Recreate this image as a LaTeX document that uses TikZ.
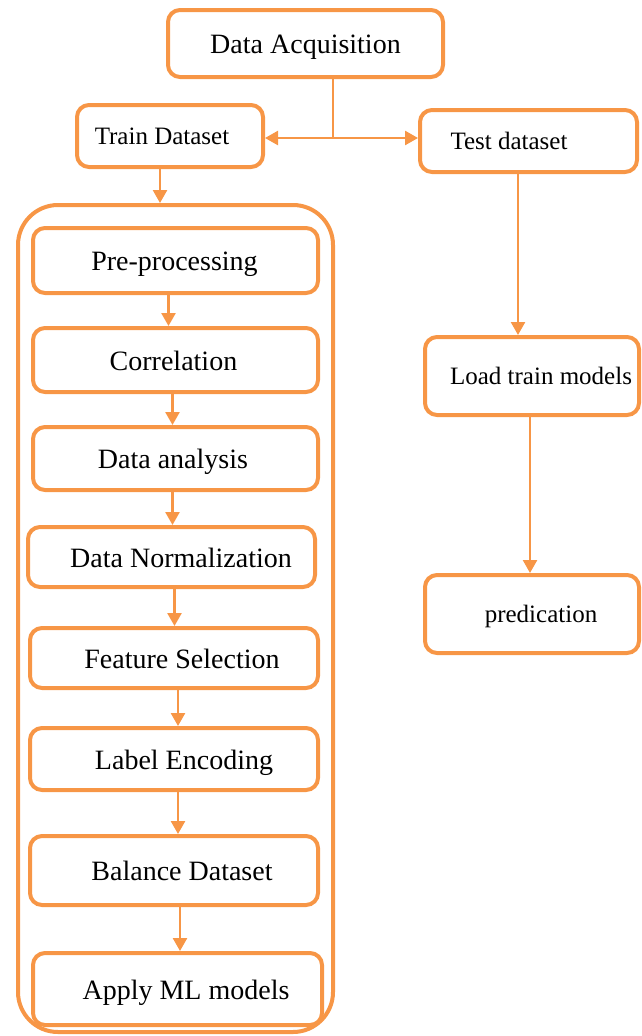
\documentclass[tikz,border=0pt]{standalone}
\usepackage{fontspec}
\setmainfont{Liberation Serif}
\usetikzlibrary{arrows.meta,calc}
\definecolor{org}{RGB}{247,150,70}
\begin{document}
\begin{tikzpicture}[x=1pt,y=1pt,
  box/.style={draw=org,line width=4pt,rounded corners=12pt,inner sep=0pt,align=center,text=black},
  big/.style={font=\fontsize{28pt}{32pt}\selectfont,text height=26pt,text depth=6pt},
  small/.style={font=\fontsize{25pt}{29pt}\selectfont,text height=23pt,text depth=5.5pt},
  arr/.style={draw=org,line width=2.5pt,-{Triangle[width=14pt,length=13pt]}}]
\useasboundingbox (0,0) rectangle (641,-1036);
% container
\node[draw=org,line width=4pt,rounded corners=40pt,minimum width=315pt,minimum height=827pt] (cont) at (175.5,-618.5) {};
% top
\node[box,big,minimum width=275pt,minimum height=67pt] (acq) at (305.5,-43.5) {Data Acquisition};
\node[box,small,minimum width=186pt,minimum height=62pt] (train) at (170,-136) {\hspace*{-16pt}Train Dataset};
\node[box,small,minimum width=217pt,minimum height=62pt] (test) at (528.5,-141) {\hspace*{-39pt}Test dataset};
% left column
\node[box,big,minimum width=285pt,minimum height=65pt] (pre) at (175.5,-260.5) {\hspace*{-2pt}Pre-processing};
\node[box,big,minimum width=285pt,minimum height=64pt] (corr) at (175.5,-360) {\hspace*{-4pt}Correlation};
\node[box,big,minimum width=285pt,minimum height=63pt] (ana) at (175.5,-458.5) {\hspace*{-5pt}Data analysis};
\node[box,big,minimum width=287pt,minimum height=60pt] (norm) at (171.5,-557) {Data Normalization\hspace*{-19pt}};
\node[box,big,minimum width=288pt,minimum height=60pt] (feat) at (174,-658) {Feature Selection\hspace*{-16pt}};
\node[box,big,minimum width=288pt,minimum height=62pt] (lab) at (174,-759) {Label Encoding\hspace*{-20pt}};
\node[box,big,minimum width=288pt,minimum height=69pt] (bal) at (174,-870.5) {Balance Dataset\hspace*{-16pt}};
\node[box,big,minimum width=289pt,minimum height=72pt] (ml) at (177.5,-989) {Apply ML models\hspace*{-17pt}};
% right column
\node[box,small,minimum width=214pt,minimum height=78pt] (load) at (532,-376) {Load train models\hspace*{-18pt}};
\node[box,small,minimum width=214pt,minimum height=78pt] (pred) at (532,-614) {predication\hspace*{-18pt}};
% connectors
\coordinate (split) at ([xshift=27.5pt]acq.south |- 0,-138);
\draw[org,line width=2.5pt] ([xshift=27.5pt]acq.south) -- (split);
\draw[arr] (split) -- (split -| train.east);
\draw[arr] (split) -- (split -| test.west);
\draw[arr] ([xshift=-10pt]train.south) -- ([xshift=-10pt]train.south |- cont.north);
\draw[arr] ([xshift=-7pt]pre.south) -- ([xshift=-7pt]pre.south |- corr.north);
\draw[arr] ([xshift=-3pt]corr.south) -- ([xshift=-3pt]corr.south |- ana.north);
\draw[arr] ([xshift=-3pt]ana.south) -- ([xshift=-3pt]ana.south |- norm.north);
\draw[arr] ([xshift=3pt]norm.south) -- ([xshift=3pt]norm.south |- feat.north);
\draw[arr] ([xshift=4pt]feat.south) -- ([xshift=4pt]feat.south |- lab.north);
\draw[arr] ([xshift=4pt]lab.south) -- ([xshift=4pt]lab.south |- bal.north);
\draw[arr] ([xshift=6pt]bal.south) -- ([xshift=6pt]bal.south |- ml.north);
\draw[arr] ([xshift=-10.5pt]test.south) -- ([xshift=-10.5pt]test.south |- load.north);
\draw[arr] ([xshift=-2pt]load.south) -- ([xshift=-2pt]load.south |- pred.north);
\end{tikzpicture}
\end{document}
